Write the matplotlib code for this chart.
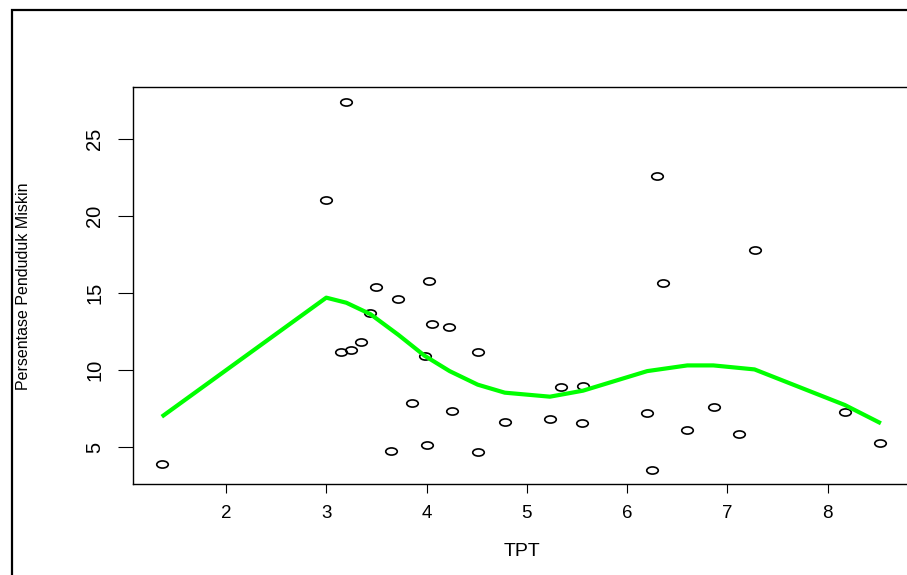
import numpy as np
import matplotlib
matplotlib.use("Agg")
import matplotlib.pyplot as plt
from matplotlib.path import Path
from matplotlib.patches import Rectangle

# ---------------------------------------------------------------------------
# Data (TPT vs. poverty percentage)
# ---------------------------------------------------------------------------

tpt = [1.36, 3.00, 3.20, 3.50, 3.72, 3.44, 3.15, 3.25, 3.35, 4.02,
       4.05, 4.22, 3.98, 4.51, 3.85, 4.25, 4.78, 3.65, 4.00, 4.51,
       5.34, 5.56, 5.23, 5.55, 6.20, 6.25, 6.30, 6.36, 6.60, 6.87,
       7.12, 7.27, 8.17, 8.52]
miskin = [3.94, 21.04, 27.40, 15.41, 14.65, 13.70, 11.21, 11.34, 11.86, 15.80,
          12.99, 12.81, 10.91, 11.21, 7.90, 7.38, 6.62, 4.76, 5.15, 4.69,
          8.92, 8.98, 6.86, 6.56, 7.25, 3.55, 22.62, 15.67, 6.10, 7.64,
          5.86, 17.83, 7.27, 5.28]

# smoothed (lowess) curve, as drawn
smooth_x = [1.36, 3.00, 3.20, 3.44, 3.72, 3.98, 4.23, 4.51, 4.78, 5.23,
            5.56, 6.20, 6.60, 6.86, 7.27, 8.17, 8.53]
smooth_y = [6.99, 14.72, 14.39, 13.65, 12.30, 10.95, 9.95, 9.07, 8.55, 8.29,
            8.68, 9.95, 10.32, 10.32, 10.06, 7.75, 6.56]

x_ticks = [2, 3, 4, 5, 6, 7, 8]
y_ticks = [5, 10, 15, 20, 25]

# ---------------------------------------------------------------------------
# Plot
# ---------------------------------------------------------------------------

W, H = 907, 575
fig = plt.figure(figsize=(W / 100, H / 100), dpi=100)

# axes box in pixels: left 133, top 87, right ~912 (off the image), bottom 484
left, top, right, bottom = 133, 87.3, 912, 484.3
ax = fig.add_axes([left / W, 1 - bottom / H, (right - left) / W, (bottom - top) / H])

# outer device frame (clipped at right / bottom)
fig.patches.append(Rectangle((12 / W, -0.2), 1.5, 1.2 - 10 / H,
                             transform=fig.transFigure, fill=False,
                             lw=1.6, edgecolor="black"))

# flattened open circles, like the stretched R output
circ = Path.unit_circle()
ell = Path(circ.vertices * np.array([1.0, 0.62]), circ.codes)

ax.plot(tpt, miskin, linestyle="none", marker=ell, markersize=8.3,
        markerfacecolor="none", markeredgecolor="black", markeredgewidth=1.2)
ax.plot(smooth_x, smooth_y, color="#00ff00", lw=3.0, solid_capstyle="butt")

ax.set_xlim(1.073, 8.84)
ax.set_ylim(2.60, 28.38)

ax.set_xticks(x_ticks)
ax.set_yticks(y_ticks)
ax.set_xticklabels([str(v) for v in x_ticks], fontfamily=["Liberation Sans", "DejaVu Sans"],
                   fontsize=13.5)
ax.set_yticklabels([str(v) for v in y_ticks],
                   fontfamily=["Liberation Sans Narrow", "Liberation Sans", "DejaVu Sans"],
                   fontsize=14.5, rotation=90, va="center")
ax.tick_params(axis="x", direction="out", length=6.5, width=0.8, pad=8.5, colors="black")
ax.tick_params(axis="y", direction="out", length=10.8, width=0.8, pad=10, colors="black")

for sp in ax.spines.values():
    sp.set_linewidth(1.0)
    sp.set_color("black")

ax.set_xlabel("TPT", fontfamily=["Liberation Sans", "DejaVu Sans"], fontsize=14, va="center")
ax.xaxis.set_label_coords(0.5, (bottom - 551) / (bottom - top))
ax.set_ylabel("Persentase Penduduk Miskin",
              fontfamily=["Liberation Sans Narrow", "Liberation Sans", "DejaVu Sans"],
              fontsize=11.5, va="center")
ax.yaxis.set_label_coords((23 - left) / (right - left), (bottom - 286) / (bottom - top))

fig.savefig("out.png", dpi=100)
